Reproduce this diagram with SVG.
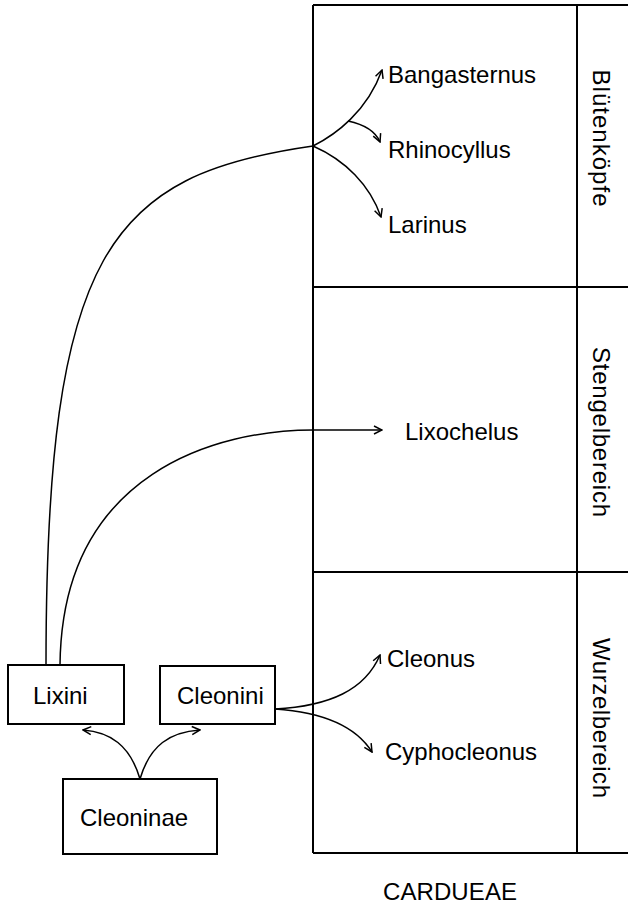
<svg xmlns="http://www.w3.org/2000/svg" width="628" height="906" viewBox="0 0 628 906">
<style>
.frame{fill:none;stroke:#000;stroke-width:2}
.box{fill:#fff;stroke:#000;stroke-width:2}
.c{fill:none;stroke:#000;stroke-width:1.5}
.a{marker-end:url(#ah)}
text{font-family:"Liberation Sans",Arial,sans-serif;font-size:24px;fill:#000}
.v{text-anchor:middle}
</style>
<defs>
<marker id="ah" viewBox="0 0 10 10" refX="9" refY="5" markerWidth="10" markerHeight="10" markerUnits="userSpaceOnUse" orient="auto">
<path d="M1,1 L9,5 L1,9" fill="none" stroke="#000" stroke-width="1.5"/>
</marker>
</defs>
<g id="frame">
<line class="frame" x1="313" y1="5" x2="628" y2="5"/>
<line class="frame" x1="313" y1="5" x2="313" y2="853"/>
<line class="frame" x1="313" y1="853" x2="628" y2="853"/>
<line class="frame" x1="313" y1="287" x2="628" y2="287"/>
<line class="frame" x1="313" y1="572" x2="628" y2="572"/>
<line class="frame" x1="577" y1="5" x2="577" y2="853"/>
</g>
<g id="zones">
<text class="v" transform="translate(593,138) rotate(90)" textLength="137">Blütenköpfe</text>
<text class="v" transform="translate(593,432) rotate(90)" textLength="170">Stengelbereich</text>
<text class="v" transform="translate(593,718) rotate(90)" textLength="160">Wurzelbereich</text>
<text x="383" y="900" textLength="134">CARDUEAE</text>
</g>
<g id="connectors">
<path class="c" d="M46,665 C46,250 110,175 313,146"/>
<path class="c a" d="M313,146 C335,135 367,112 382,70"/>
<path class="c a" d="M348,121 C362,124 375,130 380,142"/>
<path class="c a" d="M313,146 C345,160 370,185 381,217"/>
<path class="c a" d="M60,665 C62,470 220,430 313,430 L382,430"/>
<path class="c a" d="M275,709 C330,706 365,690 380,655"/>
<path class="c a" d="M275,709 C320,712 355,725 372,752"/>
<path class="c a" d="M140,779 C130,745 110,732 83,730"/>
<path class="c a" d="M140,779 C150,745 170,732 200,730"/>
</g>
<g id="Lixini"><rect class="box" x="8" y="665" width="116" height="59"/><text x="33" y="704">Lixini</text></g>
<g id="Cleonini"><rect class="box" x="160" y="666" width="115" height="58"/><text x="177" y="704">Cleonini</text></g>
<g id="Cleoninae"><rect class="box" x="63" y="779" width="154" height="75"/><text x="80" y="826">Cleoninae</text></g>
<g id="Bangasternus"><text x="388" y="83">Bangasternus</text></g>
<g id="Rhinocyllus"><text x="388" y="158">Rhinocyllus</text></g>
<g id="Larinus"><text x="388" y="233">Larinus</text></g>
<g id="Lixochelus"><text x="405" y="440">Lixochelus</text></g>
<g id="Cleonus"><text x="387" y="667">Cleonus</text></g>
<g id="Cyphocleonus"><text x="385" y="760">Cyphocleonus</text></g>
</svg>
